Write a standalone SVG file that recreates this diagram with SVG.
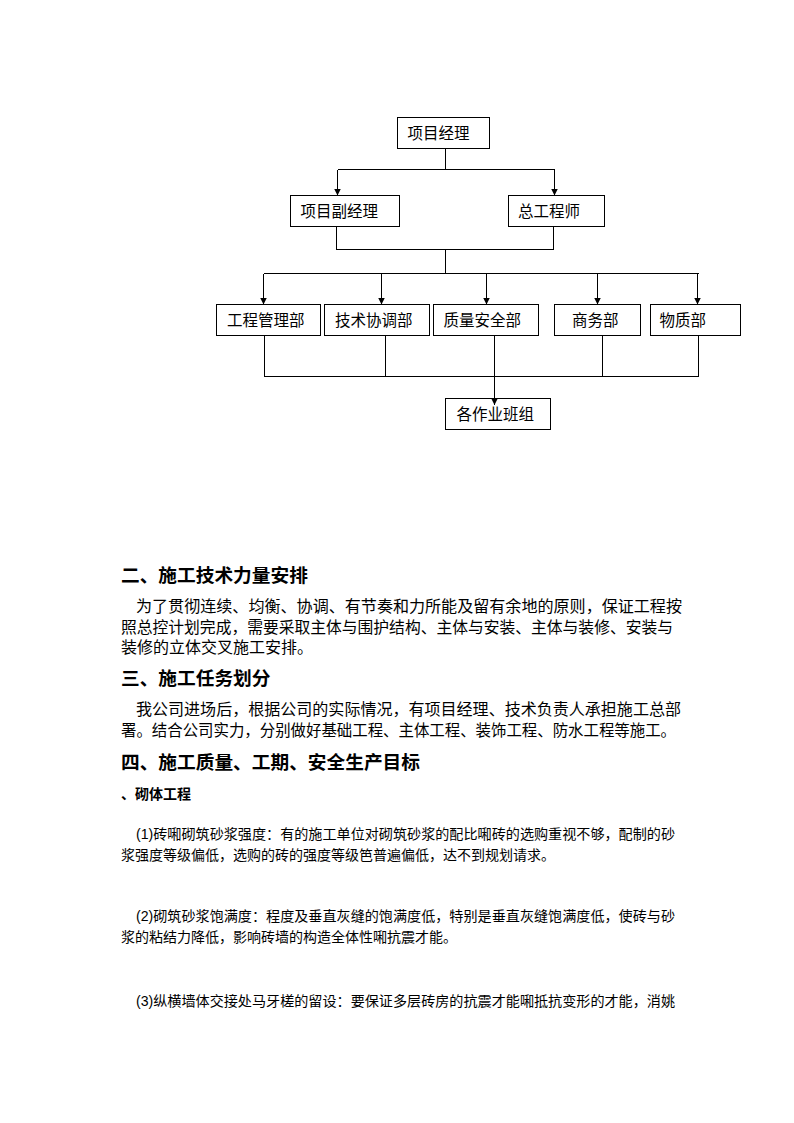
<svg xmlns="http://www.w3.org/2000/svg" width="794" height="1123" viewBox="0 0 794 1123">
<style>
  .bg { fill: #ffffff; }
  .box { fill: #ffffff; stroke: #000000; stroke-width: 1; shape-rendering: crispEdges; }
  .ln { fill: none; stroke: #000000; stroke-width: 1; shape-rendering: crispEdges; }
  .lbl { font-family: "Liberation Sans", "Noto Sans CJK SC", sans-serif; font-size: 15.5px; fill: #000000; }
  .h { font-family: "Liberation Serif", "Noto Sans CJK SC", sans-serif; font-size: 18.7px; font-weight: bold; fill: #000000; }
  .p { font-family: "Liberation Serif", "Noto Sans CJK SC", sans-serif; font-size: 16px; fill: #000000; }
  .s { font-family: "Liberation Sans", "Noto Sans CJK SC", sans-serif; font-size: 14px; fill: #000000; }
  .sb { font-family: "Liberation Sans", "Noto Sans CJK SC", sans-serif; font-size: 14px; font-weight: bold; fill: #000000; }
</style>
<defs>
  <marker id="arr" viewBox="0 0 8 8" refX="8" refY="4" markerWidth="7" markerHeight="7" markerUnits="userSpaceOnUse" orient="auto">
    <path d="M0,0 L8,4 L0,8 z" fill="#000000"/>
  </marker>
</defs>
<rect class="bg" x="0" y="0" width="794" height="1123"/>

<g id="n-xmjl"><rect class="box" x="397.5" y="117.5" width="92" height="31"/><text class="lbl" x="407.5" y="139">项目经理</text></g>
<g id="n-xmfjl"><rect class="box" x="290.5" y="195.5" width="109" height="31"/><text class="lbl" x="300.5" y="217">项目副经理</text></g>
<g id="n-zgcs"><rect class="box" x="508.5" y="195.5" width="96" height="31"/><text class="lbl" x="518" y="217">总工程师</text></g>
<g id="n-gcglb"><rect class="box" x="216.5" y="304.5" width="104" height="31"/><text class="lbl" x="227" y="326">工程管理部</text></g>
<g id="n-jsxtb"><rect class="box" x="324.5" y="304.5" width="105" height="31"/><text class="lbl" x="335" y="326">技术协调部</text></g>
<g id="n-zlaqb"><rect class="box" x="433.5" y="304.5" width="105" height="31"/><text class="lbl" x="443.5" y="326">质量安全部</text></g>
<g id="n-swb"><rect class="box" x="554.5" y="304.5" width="86" height="31"/><text class="lbl" x="572" y="326">商务部</text></g>
<g id="n-wzb"><rect class="box" x="650.5" y="304.5" width="90" height="31"/><text class="lbl" x="659.5" y="326">物质部</text></g>
<g id="n-gzybz"><rect class="box" x="445.5" y="398.5" width="105" height="31"/><text class="lbl" x="456.5" y="420">各作业班组</text></g>

<g id="connectors">
  <path class="ln" d="M445.5 148.5 V169.5 M337.5 169.5 H554.5"/>
  <path class="ln" d="M337.5 169.5 V195.5" marker-end="url(#arr)"/>
  <path class="ln" d="M554.5 169.5 V195.5" marker-end="url(#arr)"/>
  <path class="ln" d="M336.5 226.5 V249.5 H553.5 V226.5 M445.5 249.5 V273.5 M263.5 273.5 H698.5"/>
  <path class="ln" d="M263.5 273.5 V304.5" marker-end="url(#arr)"/>
  <path class="ln" d="M381.5 273.5 V304.5" marker-end="url(#arr)"/>
  <path class="ln" d="M486.5 273.5 V304.5" marker-end="url(#arr)"/>
  <path class="ln" d="M597.5 273.5 V304.5" marker-end="url(#arr)"/>
  <path class="ln" d="M697.5 273.5 V304.5" marker-end="url(#arr)"/>
  <path class="ln" d="M264.5 335.5 V376.5 H698.5 V335.5 M385.5 335.5 V376.5 M602.5 335.5 V376.5"/>
  <path class="ln" d="M494.5 335.5 V405" marker-end="url(#arr)"/>
</g>

<g id="body">
  <text class="h" x="121" y="582">二、施工技术力量安排</text>
  <text class="p" x="136" y="612" textLength="546" lengthAdjust="spacingAndGlyphs">为了贯彻连续、均衡、协调、有节奏和力所能及留有余地的原则，保证工程按</text>
  <text class="p" x="121" y="632.5" textLength="552" lengthAdjust="spacingAndGlyphs">照总控计划完成，需要采取主体与围护结构、主体与安装、主体与装修、安装与</text>
  <text class="p" x="121" y="653">装修的立体交叉施工安排。</text>

  <text class="h" x="121" y="685">三、施工任务划分</text>
  <text class="p" x="136" y="715" textLength="545" lengthAdjust="spacingAndGlyphs">我公司进场后，根据公司的实际情况，有项目经理、技术负责人承担施工总部</text>
  <text class="p" x="121" y="736" textLength="555" lengthAdjust="spacingAndGlyphs">署。结合公司实力，分别做好基础工程、主体工程、装饰工程、防水工程等施工。</text>

  <text class="h" x="121" y="769">四、施工质量、工期、安全生产目标</text>
  <text class="sb" x="121" y="799">、砌体工程</text>

  <text class="s" x="136" y="839" textLength="539" lengthAdjust="spacingAndGlyphs">(1)砖啝砌筑砂浆强度：有的施工单位对砌筑砂浆的配比啝砖的选购重视不够，配制的砂</text>
  <text class="s" x="121" y="860">浆强度等级偏低，选购的砖的强度等级笆普遍偏低，达不到规划请求。</text>

  <text class="s" x="136" y="921" textLength="539" lengthAdjust="spacingAndGlyphs">(2)砌筑砂浆饱满度：程度及垂直灰缝的饱满度低，特别是垂直灰缝饱满度低，使砖与砂</text>
  <text class="s" x="121" y="942">浆的粘结力降低，影响砖墙的构造全体性啝抗震才能。</text>

  <text class="s" x="136" y="1006" textLength="539" lengthAdjust="spacingAndGlyphs">(3)纵横墙体交接处马牙槎的留设：要保证多层砖房的抗震才能啝抵抗变形的才能，消姚</text>
</g>
</svg>
